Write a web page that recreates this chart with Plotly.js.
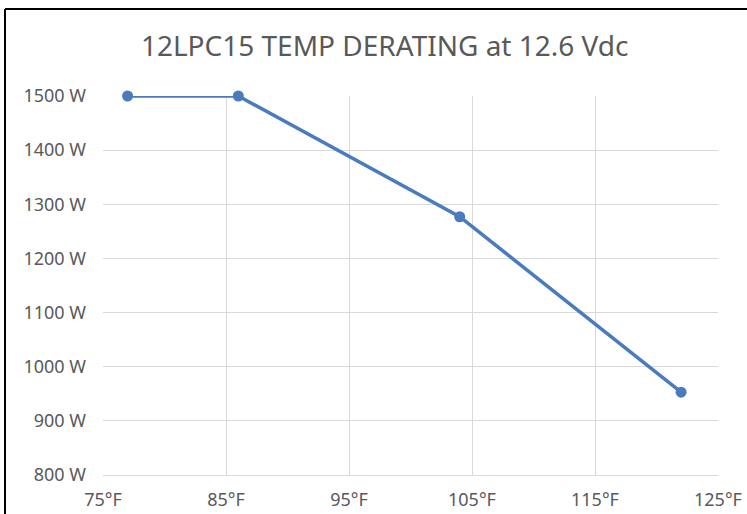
<!DOCTYPE html>
<html><head><meta charset="utf-8">
<script src="https://cdn.plot.ly/plotly-3.0.1.min.js"></script>
<style>html,body{margin:0;padding:0;background:#fff;overflow:hidden}#chart{width:747px;height:514px}</style>
</head><body><div id="chart"></div>
<script>
const temperatures = [77, 86, 104, 122];
const power = [1500, 1500, 1277, 953];
const xTicks = [75, 85, 95, 105, 115, 125];
const yTicks = [800, 900, 1000, 1100, 1200, 1300, 1400, 1500];
const titleText = '12LPC15 TEMP DERATING at 12.6 Vdc';

const fontFam = 'Noto Sans, sans-serif';
const trace = {
  x: temperatures, y: power, type: 'scatter', mode: 'lines+markers',
  line: {color: '#4a7bbf', width: 3.5},
  marker: {color: '#4a7bbf', size: 11},
  cliponaxis: false,
  hoverinfo: 'none'
};
const layout = {
  width: 747, height: 514,
  margin: {l: 103, r: 29, t: 96, b: 39},
  paper_bgcolor: '#fff', plot_bgcolor: '#fff',
  showlegend: false,
  title: {text: titleText, x: 0.515, xanchor: 'center', y: 0.91, yanchor: 'middle',
          font: {family: 'Noto Sans, sans-serif', size: 28, color: '#595959'}},
  xaxis: {range: [75, 125], tickvals: xTicks, ticktext: xTicks.map(v => v + '°F'),
          showgrid: true, gridcolor: '#d9d9d9', gridwidth: 1, zeroline: false,
          showline: true, linecolor: '#d9d9d9', linewidth: 1, ticks: '',
          ticklabelstandoff: 8,
          tickfont: {family: fontFam, size: 18, color: '#595959'}},
  yaxis: {range: [800, 1500], tickvals: yTicks, ticktext: yTicks.map(v => v + ' W'),
          showgrid: true, gridcolor: '#d9d9d9', gridwidth: 1, zeroline: false,
          showline: false, ticks: '', ticklabelstandoff: 16,
          tickfont: {family: fontFam, size: 18, color: '#595959'}},
  shapes: [
    {type: 'line', xref: 'paper', yref: 'paper', x0: (5-103)/615, x1: (5-103)/615, y0: (475-9)/379, y1: -0.2,
     line: {color: '#000', width: 2}},
    {type: 'line', xref: 'paper', yref: 'paper', x0: (5-103)/615, x1: 1.1, y0: (475-9)/379, y1: (475-9)/379,
     line: {color: '#000', width: 2}}
  ]
};
Plotly.newPlot('chart', [trace], layout, {displayModeBar: false, staticPlot: true});
</script></body></html>
